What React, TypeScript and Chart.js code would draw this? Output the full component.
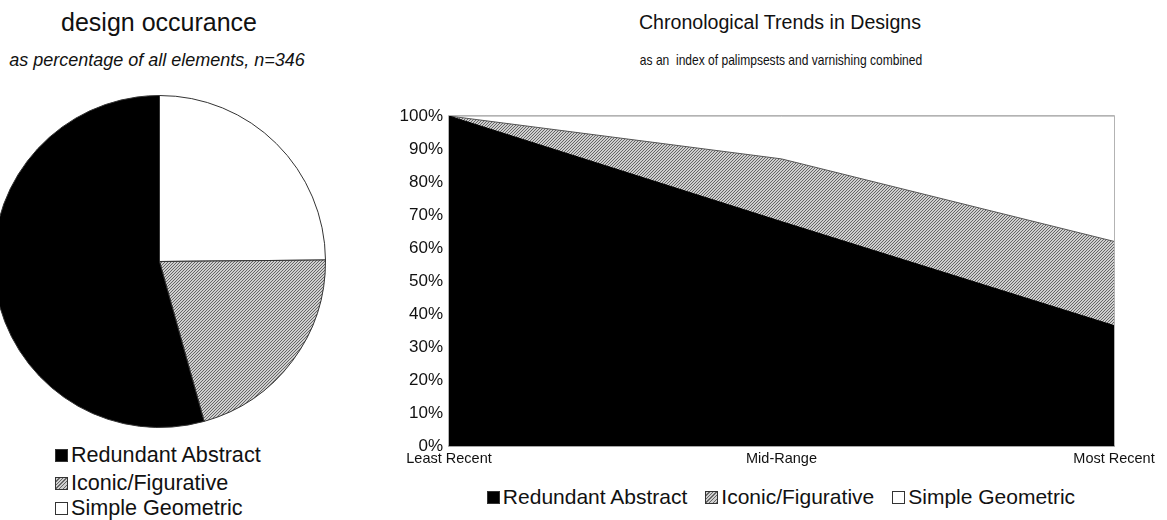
import React, { useEffect, useRef } from "react";
import { Chart, registerables } from "chart.js";

Chart.register(...registerables);

// ---- Pie data (slices drawn clockwise from 12 o'clock), n = 346 ----
const pieLabels = ["Simple Geometric", "Iconic/Figurative", "Redundant Abstract"];
const pieCounts = [86, 72, 188];

// ---- Chronological trends (percent stacked area) ----
const trendLabels = ["Least Recent", "Mid-Range", "Most Recent"];
const redundantAbstract = [100, 68, 36.5];
const iconicFigurative = [0, 19, 25.5];
const simpleGeometric = [0, 13, 38];

const legendLabels = ["Redundant Abstract", "Iconic/Figurative", "Simple Geometric"];

const SANS = '"Liberation Sans", Arial, sans-serif';

function makeHatch(): CanvasPattern | string {
  const c = document.createElement("canvas");
  c.width = 3;
  c.height = 3;
  const g = c.getContext("2d");
  if (!g) return "#aaa";
  g.fillStyle = "#cfcfcf";
  g.fillRect(0, 0, 3, 3);
  g.fillStyle = "#666";
  for (let i = 0; i < 3; i++) g.fillRect(i, 2 - i, 1, 1);
  return g.createPattern(c, "repeat") || "#aaa";
}

const hatchCss =
  "repeating-linear-gradient(-45deg, #666 0px, #666 1px, #cfcfcf 1px, #cfcfcf 2.5px)";

const swatchStyle = (i: number): React.CSSProperties => ({
  display: "inline-block",
  width: 13,
  height: 13,
  boxSizing: "border-box",
  border: "1px solid #333",
  background: i === 0 ? "#000" : i === 1 ? hatchCss : "#fff",
  marginRight: 3,
  flex: "0 0 auto",
});

const plotBorder = {
  id: "plotBorder",
  beforeDatasetsDraw(chart: any) {
    const { ctx, chartArea } = chart;
    ctx.save();
    ctx.strokeStyle = "#9a9a9a";
    ctx.lineWidth = 1.5;
    ctx.strokeRect(chartArea.left, chartArea.top, chartArea.right - chartArea.left, chartArea.bottom - chartArea.top);
    ctx.restore();
  },
};

export default function App() {
  const pieRef = useRef<HTMLCanvasElement>(null);
  const areaRef = useRef<HTMLCanvasElement>(null);

  useEffect(() => {
    const hatch = makeHatch();
    const pie = new Chart(pieRef.current as HTMLCanvasElement, {
      type: "pie",
      data: {
        labels: pieLabels,
        datasets: [
          {
            data: pieCounts,
            backgroundColor: ["#ffffff", hatch as any, "#000000"],
            borderColor: "#333",
            borderWidth: 1,
          },
        ],
      },
      options: {
        animation: false,
        responsive: false,
        layout: { padding: 0 },
        plugins: { legend: { display: false }, tooltip: { enabled: false } },
      },
    });

    const area = new Chart(areaRef.current as HTMLCanvasElement, {
      type: "line",
      data: {
        labels: trendLabels,
        datasets: [
          {
            label: legendLabels[0],
            data: redundantAbstract,
            fill: "origin",
            backgroundColor: "#000",
            borderColor: "#000",
            borderWidth: 1,
            pointRadius: 0,
            tension: 0,
          },
          {
            label: legendLabels[1],
            data: iconicFigurative,
            fill: "-1",
            backgroundColor: hatch as any,
            borderColor: "#555",
            borderWidth: 1,
            pointRadius: 0,
            tension: 0,
          },
          {
            label: legendLabels[2],
            data: simpleGeometric,
            fill: "-1",
            backgroundColor: "#fff",
            borderColor: "#9a9a9a",
            borderWidth: 1,
            pointRadius: 0,
            tension: 0,
          },
        ],
      },
      options: {
        animation: false,
        responsive: false,
        layout: { padding: { top: 116, right: 53, left: 0, bottom: 0 } },
        plugins: { legend: { display: false }, tooltip: { enabled: false } },
        scales: {
          x: {
            offset: false,
            grid: { display: false, drawTicks: false },
            border: { display: true, color: "#9a9a9a", width: 1.5 },
            ticks: {
              padding: 4,
              color: "#111",
              font: { family: SANS, size: 14.5 },
              maxRotation: 0,
              autoSkip: false,
            },
            afterFit: (s: any) => {
              s.height = 34;
            },
          },
          y: {
            stacked: true,
            min: 0,
            max: 100,
            grid: { display: false, drawTicks: false },
            border: { display: false },
            ticks: {
              stepSize: 10,
              padding: 6,
              color: "#111",
              font: { family: SANS, size: 17 },
              callback: (v: any) => v + "%",
            },
            afterFit: (s: any) => {
              s.width = 69;
            },
          },
        },
      },
      plugins: [plotBorder],
    });

    return () => {
      pie.destroy();
      area.destroy();
    };
  }, []);

  return (
    <div
      style={{
        position: "absolute",
        left: 0,
        top: 0,
        width: 1167,
        height: 520,
        overflow: "hidden",
        background: "#fff",
        fontFamily: SANS,
        color: "#111",
      }}
    >
      {/* left: pie */}
      <div style={{ position: "absolute", left: 0, width: 318, top: 9, fontSize: 25, lineHeight: "26px", textAlign: "center" }}>
        design occurance
      </div>
      <div
        style={{
          position: "absolute",
          left: 0,
          width: 314,
          top: 50,
          fontSize: 18,
          lineHeight: "20px",
          fontStyle: "italic",
          textAlign: "center",
          whiteSpace: "nowrap",
        }}
      >
        as percentage of all elements, n=346
      </div>
      <canvas ref={pieRef} width={333} height={333} style={{ position: "absolute", left: -7, top: 95 }} />
      {legendLabels.map((t, i) => (
        <div
          key={t}
          style={{
            position: "absolute",
            left: 55,
            top: [443, 471, 496][i],
            height: 24,
            display: "flex",
            alignItems: "center",
            fontSize: 21.6,
            whiteSpace: "nowrap",
          }}
        >
          <span style={swatchStyle(i)} />
          <span>{t}</span>
        </div>
      ))}

      {/* right: area */}
      <div style={{ position: "absolute", left: 380, width: 800, top: 10, fontSize: 19.6, lineHeight: "24px", textAlign: "center" }}>
        Chronological Trends in Designs
      </div>
      <div
        style={{
          position: "absolute",
          left: 380,
          width: 802,
          top: 51,
          fontSize: 14.5,
          lineHeight: "18px",
          textAlign: "center",
          whiteSpace: "pre",
          transform: "scaleX(0.83)",
          transformOrigin: "401px 50%",
        }}
      >
        {"as an  index of palimpsests and varnishing combined"}
      </div>
      <canvas ref={areaRef} width={787} height={480} style={{ position: "absolute", left: 380, top: 0 }} />
      <div
        style={{
          position: "absolute",
          left: 380,
          width: 802,
          top: 485,
          height: 24,
          display: "flex",
          justifyContent: "center",
          alignItems: "center",
          fontSize: 21,
          whiteSpace: "nowrap",
        }}
      >
        {legendLabels.map((t, i) => (
          <div key={t} style={{ display: "flex", alignItems: "center", marginLeft: i ? 18 : 0 }}>
            <span style={swatchStyle(i)} />
            <span>{t}</span>
          </div>
        ))}
      </div>
    </div>
  );
}
